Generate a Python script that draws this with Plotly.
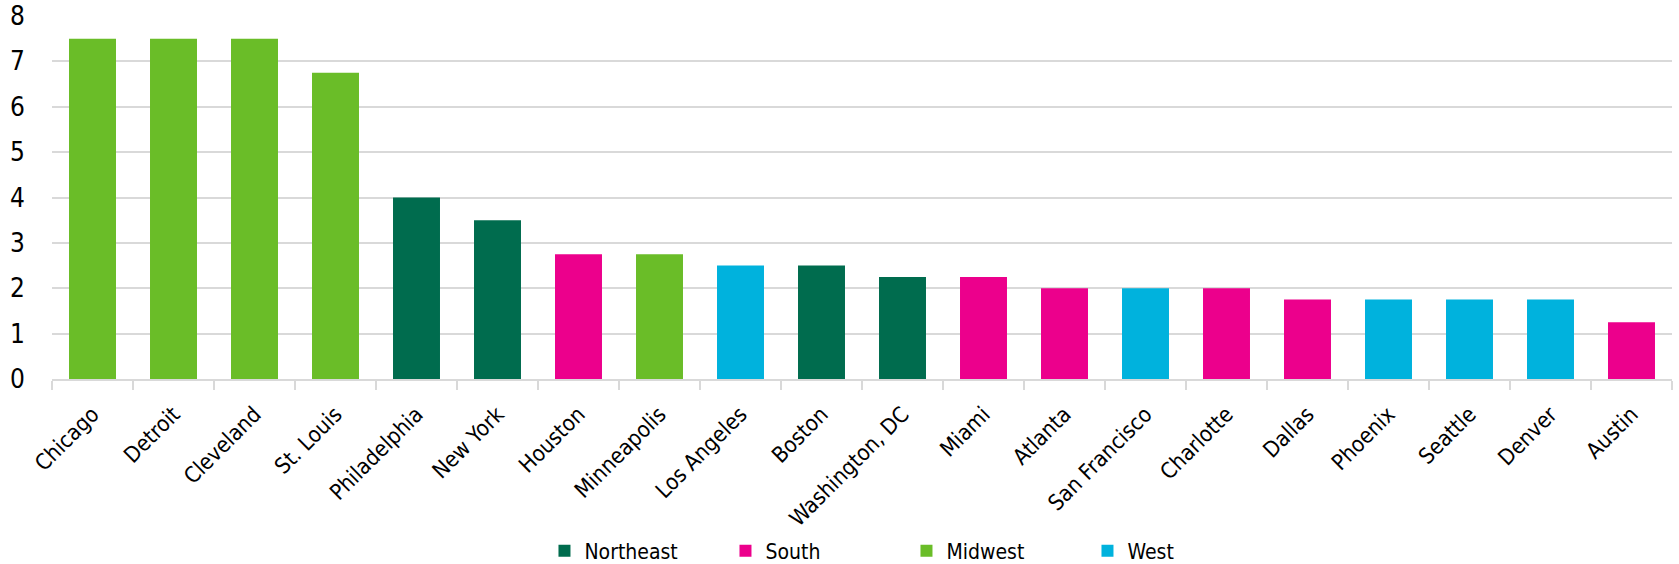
import plotly.graph_objects as go

# Cities ranked by value, with their census region
cities = ["Chicago", "Detroit", "Cleveland", "St. Louis", "Philadelphia", "New York",
          "Houston", "Minneapolis", "Los Angeles", "Boston", "Washington, DC", "Miami",
          "Atlanta", "San Francisco", "Charlotte", "Dallas", "Phoenix", "Seattle",
          "Denver", "Austin"]
values = [7.5, 7.5, 7.5, 6.75, 4.0, 3.5, 2.75, 2.75, 2.5, 2.5, 2.25, 2.25,
          2.0, 2.0, 2.0, 1.75, 1.75, 1.75, 1.75, 1.25]
regions = ["Midwest", "Midwest", "Midwest", "Midwest", "Northeast", "Northeast",
           "South", "Midwest", "West", "Northeast", "Northeast", "South",
           "South", "West", "South", "South", "West", "West", "West", "South"]

region_order = ["Northeast", "South", "Midwest", "West"]
region_colors = {"Northeast": "#006C4E", "South": "#EC008C",
                 "Midwest": "#6ABD28", "West": "#00B2DD"}

FONT = "Liberation Sans Narrow, DejaVu Sans Condensed, Arial Narrow, sans-serif"

fig = go.Figure()
for reg in region_order:
    xs = [c for c, r in zip(cities, regions) if r == reg]
    ys = [v for v, r in zip(values, regions) if r == reg]
    fig.add_trace(go.Bar(x=xs, y=ys, name=reg,
                         marker=dict(color=region_colors[reg], line=dict(width=0))))

fig.update_layout(
    width=1679, height=564,
    barmode="relative", bargap=0.42,
    plot_bgcolor="white", paper_bgcolor="white",
    margin=dict(l=52, r=7, t=16, b=185, autoexpand=False),
    font=dict(family=FONT, color="#000000"),
    showlegend=True,
    legend=dict(orientation="h", x=0.304, xanchor="left", y=-0.474, yanchor="middle",
                font=dict(size=21, family=FONT), entrywidth=136,
                itemwidth=30, traceorder="normal"),
)
fig.update_xaxes(
    type="category", categoryorder="array", categoryarray=cities,
    tickangle=-45, tickfont=dict(size=22, family=FONT), automargin=False,
    showline=True, linecolor="#d9d9d9", linewidth=1.5,
    ticks="outside", tickson="boundaries", ticklen=9, tickcolor="#d9d9d9", tickwidth=1.5,
    ticklabelstandoff=12, showgrid=False,
)
fig.update_yaxes(
    range=[0, 8], dtick=1, tickfont=dict(size=26, family=FONT), automargin=False,
    showgrid=True, gridcolor="#d9d9d9", gridwidth=1.5,
    zeroline=False, showline=False, ticklabelstandoff=26,
)

fig.write_html("out.html")
